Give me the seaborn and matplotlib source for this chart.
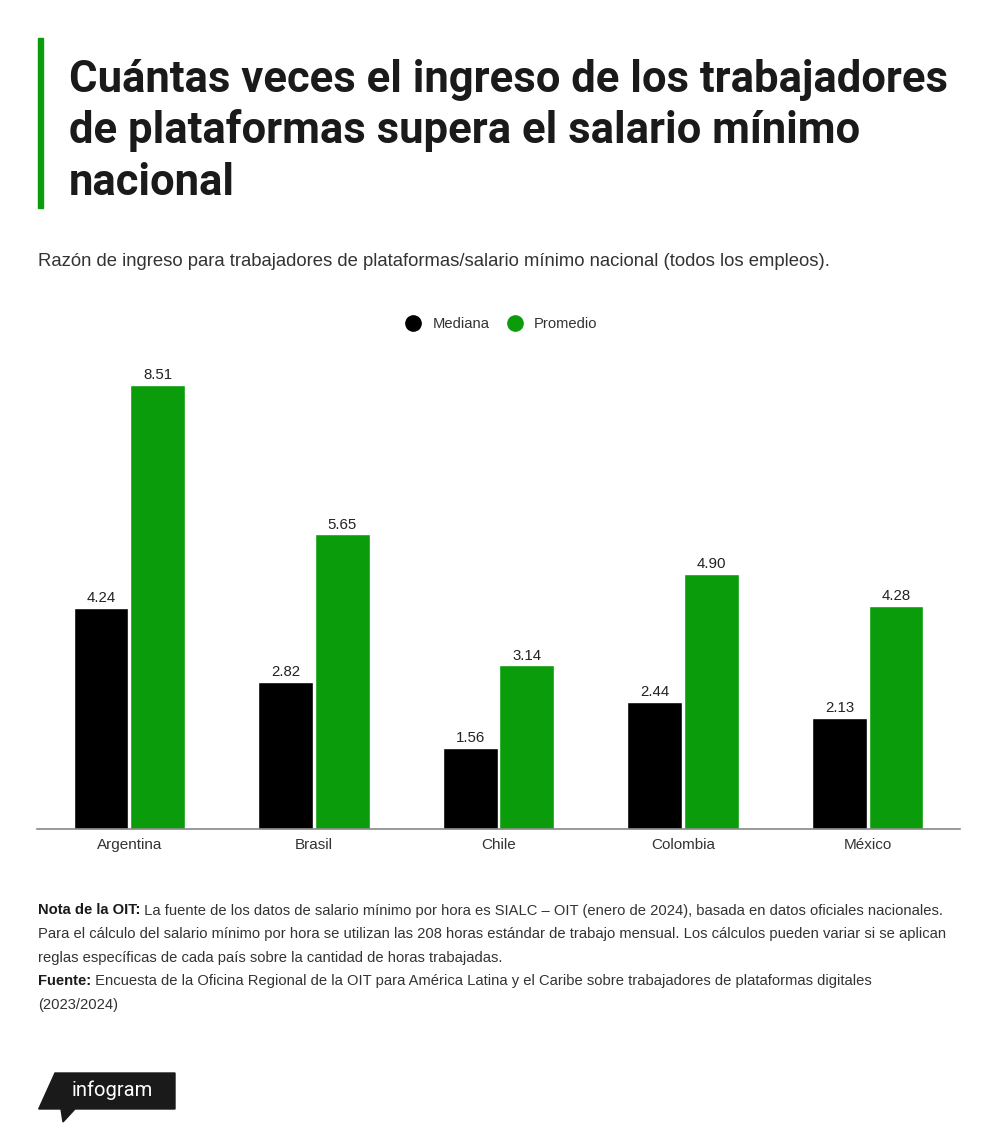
import matplotlib
matplotlib.use('Agg')
import pandas as pd
import seaborn as sns
from matplotlib import pyplot as plt
from matplotlib import font_manager as fm
from matplotlib.lines import Line2D
from matplotlib.patches import Polygon, Rectangle

# Data
paises = ['Argentina', 'Brasil', 'Chile', 'Colombia', 'México']
mediana = [4.24, 2.82, 1.56, 2.44, 2.13]
promedio = [8.51, 5.65, 3.14, 4.90, 4.28]
series = ['Mediana', 'Promedio']
colores = ['#000000', '#0a9c0a']

titulo = ['Cuántas veces el ingreso de los trabajadores',
          'de plataformas supera el salario mínimo',
          'nacional']
subtitulo = 'Razón de ingreso para trabajadores de plataformas/salario mínimo nacional (todos los empleos).'
notas = [('Nota de la OIT:', ' La fuente de los datos de salario mínimo por hora es SIALC – OIT (enero de 2024), basada en datos oficiales nacionales.'),
         ('', 'Para el cálculo del salario mínimo por hora se utilizan las 208 horas estándar de trabajo mensual. Los cálculos pueden variar si se aplican'),
         ('', 'reglas específicas de cada país sobre la cantidad de horas trabajadas.'),
         ('Fuente:', ' Encuesta de la Oficina Regional de la OIT para América Latina y el Caribe sobre trabajadores de plataformas digitales'),
         ('', '(2023/2024)')]

df = pd.DataFrame({'pais': paises * 2,
                   'serie': [series[0]] * len(paises) + [series[1]] * len(paises),
                   'valor': mediana + promedio})


def has_font(name):
    try:
        fm.findfont(fm.FontProperties(family=name), fallback_to_default=False)
        return True
    except Exception:
        return False


body_font = 'Liberation Sans' if has_font('Liberation Sans') else 'DejaVu Sans'
title_font = 'Roboto' if has_font('Roboto') else body_font

sns.set_style('white')
plt.rcParams['font.family'] = [body_font, 'DejaVu Sans']

W, H = 1000, 1141
fig = plt.figure(figsize=(W / 100, H / 100), dpi=100)


def fx(px):
    return px / W


def fy(py):
    return 1 - py / H


# plot area
ax = fig.add_axes([fx(37), fy(829.3), fx(960) - fx(37), (829.3 - 359.5) / H])
sns.barplot(data=df, x='pais', y='valor', hue='serie', palette=colores,
            width=0.612, gap=0.03, saturation=1, ax=ax, legend=False)
ax.set_xlim(-0.5, 4.5)
ax.set_ylim(0, 9)
for c in ax.containers:
    ax.bar_label(c, fmt='%.2f', padding=2, fontsize=10.8, color='#222222')
sns.despine(ax=ax, left=True, top=True, right=True)
ax.spines['bottom'].set_color('#888888')
ax.spines['bottom'].set_linewidth(1.2)
ax.set_yticks([])
ax.set_xlabel('')
ax.set_ylabel('')
ax.tick_params(axis='x', length=0, pad=6, labelsize=11, labelcolor='#333333')

# title block
fig.patches.append(Rectangle((fx(38), fy(208)), fx(5), (208 - 38) / H,
                             transform=fig.transFigure, color='#0a9c0a'))
for i, linea in enumerate(titulo):
    fig.text(fx(69), fy(92 + i * 51.5), linea, family=[title_font, 'DejaVu Sans'],
             fontsize=31.4, fontweight='bold', color='#1a1a1a', va='baseline')

fig.text(fx(38), fy(262), subtitulo, fontsize=13.3, color='#333333', va='center')

# legend
handles = [Line2D([], [], marker='o', linestyle='', markersize=11, color=c) for c in colores]
fig.legend(handles, series, loc='center', bbox_to_anchor=(0.498, fy(324)), ncol=2,
           frameon=False, fontsize=10.6, handletextpad=0.3, columnspacing=0.7,
           labelcolor='#333333')

# notes
renderer = fig.canvas.get_renderer()
y0 = 910.5
for i, (negrita, resto) in enumerate(notas):
    y = fy(y0 + i * 23.6)
    x = fx(38)
    if negrita:
        t = fig.text(x, y, negrita, fontsize=10.65, fontweight='bold', color='#1a1a1a', va='center')
        bb = t.get_window_extent(renderer)
        x = fx(bb.x1)
    fig.text(x, y, resto, fontsize=10.65, color='#333333', va='center')

# infogram logo
logo = [(55, 1073), (175, 1073), (175, 1109), (75, 1109), (63, 1122), (61, 1109), (38.7, 1109)]
fig.patches.append(Polygon([(fx(a), fy(b)) for a, b in logo], closed=True,
                           transform=fig.transFigure, color='#1a1a1a'))
fig.text(fx(112), fy(1090), 'infogram', family=[title_font, 'DejaVu Sans'],
         fontsize=14.5, fontweight='normal', color='white', ha='center', va='center')

fig.savefig('out.png', dpi=100)
